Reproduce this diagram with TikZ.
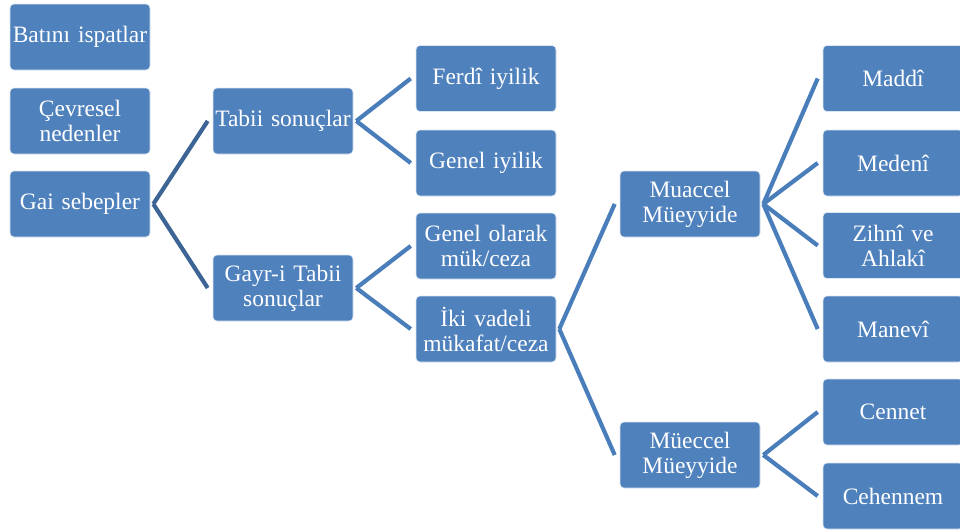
\documentclass[tikz,border=0pt]{standalone}
\usepackage{fontspec}
\setmainfont{Liberation Serif}
\definecolor{boxblue}{HTML}{4F81BD}
\definecolor{linkblue}{HTML}{4A7EBB}
\definecolor{darkblue}{HTML}{3C6494}
\begin{document}
\begin{tikzpicture}[x=1pt,y=-1pt,
  box/.style={draw=white!80!boxblue,line width=0.6pt,fill=boxblue,rounded corners=4pt,
    minimum width=140pt,minimum height=66pt,text width=136pt,align=center,inner sep=1pt,
    text=white,font=\fontsize{23.5}{25}\selectfont},
  link/.style={draw=linkblue,line width=4.2pt},
  link1/.style={draw=darkblue,line width=4.2pt}]
\useasboundingbox (0,0) rectangle (960,530);
\clip (0,0) rectangle (960,530);
% column 1
\node[box] (bat) at (80,37) {Batını ispatlar};
\node[box] (cev) at (80,121) {Çevresel\\nedenler};
\node[box] (gai) at (80,204) {Gai sebepler};
% column 2
\node[box] (tab) at (283,121) {Tabii sonuçlar};
\node[box] (gay) at (283,288) {Gayr-i Tabii\\sonuçlar};
% column 3
\node[box] (fer) at (486,78.5) {Ferdî iyilik};
\node[box] (gen) at (486,163) {Genel iyilik};
\node[box] (gol) at (486,246) {Genel olarak\\mük/ceza};
\node[box] (iki) at (486,329) {İki vadeli\\mükafat/ceza};
% column 4
\node[box] (mua) at (690,204) {Muaccel\\Müeyyide};
\node[box] (mue) at (690,455) {Müeccel\\Müeyyide};
% column 5
\node[box] (mad) at (893,78.5) {Maddî};
\node[box] (med) at (893,163) {Medenî};
\node[box] (zih) at (893,245.5) {Zihnî ve\\Ahlakî};
\node[box] (man) at (893,329) {Manevî};
\node[box] (cen) at (893,412) {Cennet};
\node[box] (ceh) at (893,496) {Cehennem};
% connectors
\foreach \p/\c in {gai/tab,gai/gay}
  \draw[link1] ([xshift=3pt]\p.east) -- ([xshift=-5pt]\c.west);
\foreach \p/\c in {tab/fer,tab/gen,gay/gol,gay/iki,iki/mua,iki/mue,mua/mad,mua/med,mua/zih,mua/man,mue/cen,mue/ceh}
  \draw[link] ([xshift=3pt]\p.east) -- ([xshift=-5pt]\c.west);
\end{tikzpicture}
\end{document}
